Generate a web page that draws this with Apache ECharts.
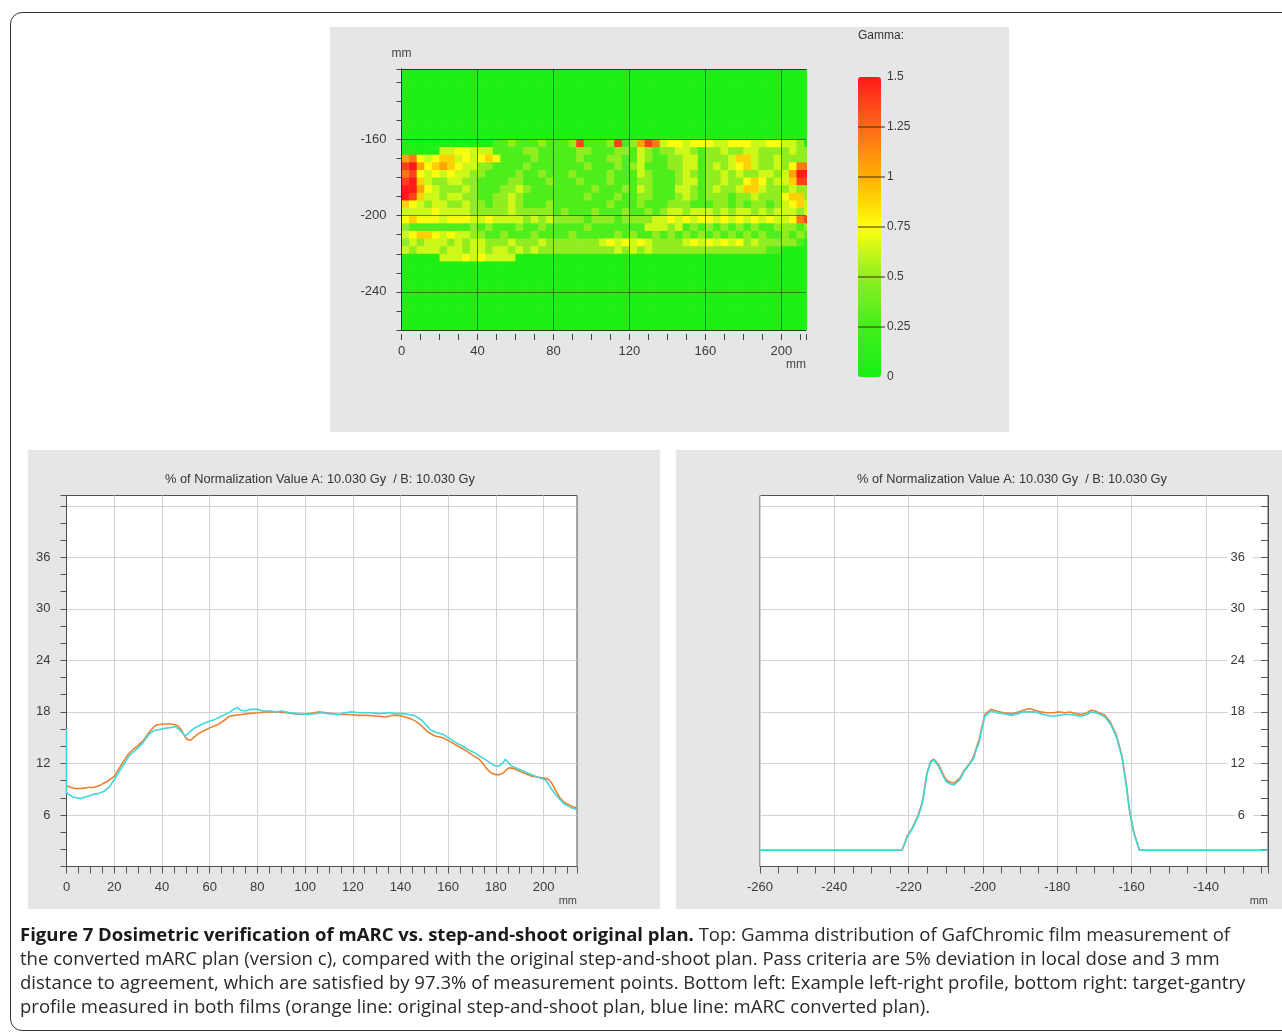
<!DOCTYPE html>
<html><head><meta charset="utf-8">
<script src="https://cdn.jsdelivr.net/npm/echarts@6/dist/echarts.min.js"></script>
<style>
html,body{margin:0;padding:0;background:#fff;width:1282px;height:1033px;overflow:hidden;}
#frame{position:absolute;left:10px;top:12px;width:1300px;height:1017px;border:1.5px solid #333;border-radius:12px;}
.panel{position:absolute;background:#e6e6e6;}
#chart{position:absolute;left:0;top:0;width:1282px;height:1033px;}
#caption{position:absolute;left:20px;top:922px;font-family:'Open Sans',sans-serif;font-size:18.55px;line-height:24px;color:#2a2a2a;white-space:nowrap;}
#caption b{color:#1a1a1a;}
</style></head><body>
<div id="frame"></div>
<div class="panel" style="left:330px;top:27px;width:679px;height:405px"></div>
<div class="panel" style="left:28px;top:450px;width:632px;height:459px"></div>
<div class="panel" style="left:676px;top:450px;width:620px;height:459px"></div>
<div id="chart"></div>
<div id="caption"><b>Figure 7 Dosimetric verification of mARC vs. step-and-shoot original plan.</b> Top: Gamma distribution of GafChromic film measurement of<br>the converted mARC plan (version c), compared with the original step-and-shoot plan. Pass criteria are 5% deviation in local dose and 3 mm<br>distance to agreement, which are satisfied by 97.3% of measurement points. Bottom left: Example left-right profile, bottom right: target-gantry<br>profile measured in both films (orange line: original step-and-shoot plan, blue line: mARC converted plan).</div>
<script>
// ---------- DATA ----------
// Gamma map: 4 mm cells, rows from y=-124 (top) down to y=-260, columns from x=0; digit = level index
const GAMMA_LEVELS = [0.05, 0.28, 0.5, 0.64, 0.76, 0.9, 1.05, 1.2, 1.38, 1.5];
const GAMMA_CELL_MM = 4;
const GAMMA_X_FIRST = 0;
const GAMMA_Y_TOP_ROW = -124;
const GAMMA_ROWS = [
  "0000000000 0000000000 0000000000 0000000000 0000000000 0000",
  "0000000000 0000000000 0000000000 0000000000 0000000000 0000",
  "0000000000 0000000000 0000000000 0000000000 0000000000 0000",
  "0000000000 0000000000 0000000000 0000000000 0000000000 0000",
  "0000000000 0000000000 0000000000 0000000000 0000000000 0000",
  "0000000000 0000000000 0000000000 0000000000 0000000000 0000",
  "0000000000 0000000000 0000000000 0000000000 0000000000 0000",
  "0000000000 0000000000 0000000000 0000000000 0000000000 0000",
  "0000000000 0000000000 0000000000 0000000000 0000000000 0000",
  "0000000000 0000000000 0000000000 0000000000 0000000000 0000",
  "0000000000 0011211121 1128111281 2687344344 4334443344 3320",
  "0000033443 3311112211 1112211122 1321223321 2232233222 2322",
  "6743455343 4541111211 1112111221 1321122331 2223553223 2222",
  "8964565433 2211112111 1111211121 2311122331 2323453223 2477",
  "7843434332 2111121121 1121111211 1321112321 2232322332 3699",
  "8953223322 1111221112 1112111211 1221112331 2232245423 3588",
  "9964322232 1112232111 1111121112 1321113321 2322355322 2322",
  "9853323322 1122321111 1111211121 1221112321 2221223222 4552",
  "5432332232 2122321112 1111111211 1211122211 1221212212 3453",
  "3333433332 2222322222 1211121112 1121233233 3232332323 3323",
  "4544434443 3433332323 2222122212 2223343434 4343434343 3478",
  "2111111112 1211121121 1111211111 1133323121 2121212112 2212",
  "3455434332 2112111211 1121111121 2112121212 1212121211 2121",
  "2323332323 3222322232 2222223434 3432222343 4343423222 2210",
  "3233323323 3233232322 2222222232 3232222222 2222222211 0000",
  "0000033343 4333300000 0000000000 0000000000 0000000000 0000",
  "0000000000 0000000000 0000000000 0000000000 0000000000 0000",
  "0000000000 0000000000 0000000000 0000000000 0000000000 0000",
  "0000000000 0000000000 0000000000 0000000000 0000000000 0000",
  "0000000000 0000000000 0000000000 0000000000 0000000000 0000",
  "0000000000 0000000000 0000000000 0000000000 0000000000 0000",
  "0000000000 0000000000 0000000000 0000000000 0000000000 0000",
  "0000000000 0000000000 0000000000 0000000000 0000000000 0000",
  "0000000000 0000000000 0000000000 0000000000 0000000000 0000",
  "0000000000 0000000000 0000000000 0000000000 0000000000 0000"
];
const GAMMA_BAR_LABELS = [0, 0.25, 0.5, 0.75, 1, 1.25, 1.5];
const GAMMA_COLORS = ['#14f014', '#44ee1c', '#90ee20', '#ffff10', '#ffb000', '#ff6a1a', '#ff1a1a'];
const HEAT_X_LABELS = [0, 40, 80, 120, 160, 200];
const HEAT_Y_LABELS = [-240, -200, -160];

// Left-right profile (mm, % of normalization)
const LR_ORIGINAL = [[0,9.4],[2,9.2],[4.2,9.05],[6.5,9.1],[9.3,9.2],[11.5,9.2],[14.3,9.5],[17,9.9],[20,10.5],[22,11.4],[24.5,12.5],[26,13.1],[27.8,13.6],[30,14.1],[32,14.6],[33.8,15.3],[35.4,15.9],[36.8,16.3],[38,16.5],[41.4,16.6],[44,16.6],[45.6,16.5],[47,16.3],[48.1,15.9],[49.5,15.2],[50.6,14.8],[52,14.7],[53.2,15.0],[55.5,15.5],[58.2,15.9],[60.5,16.2],[63.3,16.5],[66,17.0],[68.4,17.5],[70.5,17.6],[73.4,17.7],[76,17.8],[80.2,17.9],[84,18.0],[88.6,18.0],[92,17.9],[95,17.8],[98.7,17.7],[102,17.8],[105.5,18.0],[109,17.9],[114,17.7],[118,17.7],[122.4,17.6],[126,17.6],[130.8,17.5],[134,17.4],[136.5,17.6],[139.2,17.6],[142,17.4],[144.3,17.2],[146.5,16.9],[148.5,16.5],[150.2,16.0],[151.9,15.6],[154.5,15.2],[157.8,15.0],[160.5,14.6],[162.9,14.2],[165.5,13.8],[167.9,13.4],[170.5,12.9],[173,12.5],[174.8,11.9],[176.4,11.3],[178,10.9],[179.7,10.7],[181.5,10.7],[183.1,10.9],[184.5,11.3],[185.6,11.5],[187.5,11.4],[189.9,11.1],[192.5,10.8],[195,10.5],[198,10.4],[201.7,10.2],[202.6,10.0],[203.4,9.7],[205,8.9],[206.8,8.0],[208.5,7.5],[210.5,7.2],[212,7.0],[214,6.8]];
const LR_MARC = [[0,16.0],[0,8.6],[0.8,8.4],[2.5,8.1],[4.2,8.0],[6,7.9],[7.6,8.1],[9.5,8.2],[11,8.4],[13.5,8.5],[16,8.8],[18,9.3],[20,10.1],[22,11.0],[24.5,12.1],[26,12.8],[27.8,13.3],[30,13.8],[32,14.4],[33.5,15.0],[34.6,15.4],[36.5,15.8],[38,15.9],[41.4,16.1],[44,16.2],[45.6,16.3],[47,16.0],[47.8,15.75],[49.8,15.2],[51.5,15.6],[53,16.0],[54.9,16.3],[57,16.6],[59.9,16.9],[62,17.1],[65,17.5],[68,17.9],[70,18.3],[71.7,18.5],[73,18.2],[75,18.1],[77,18.3],[80.2,18.3],[82,18.1],[85.2,18.1],[88,18.0],[90,18.1],[93.7,17.9],[97,17.8],[100.4,17.7],[104,17.8],[107,17.9],[110,17.8],[114,17.7],[117,17.9],[119,18.0],[123,17.9],[127.4,17.9],[131,17.8],[135.9,17.9],[138,17.8],[141,17.8],[143.5,17.7],[145.7,17.6],[147.5,17.3],[149.4,16.9],[151,16.4],[152.7,15.9],[155,15.6],[157.8,15.4],[159.5,15.1],[161.2,14.8],[163.5,14.4],[166.2,14.0],[168.5,13.6],[171.3,13.2],[174,12.7],[176.4,12.3],[178,12.0],[179.7,11.7],[181.4,11.7],[183,12.1],[184,12.5],[185.2,12.1],[186.5,11.7],[189,11.4],[191.6,11.1],[194,10.8],[196.6,10.5],[198.5,10.3],[200.8,10.1],[202,9.6],[203.4,9.0],[205,8.4],[206.8,7.8],[208.5,7.3],[210.5,7.0],[212,6.8],[214,6.6]];

// Target-gantry profile (mm, % of normalization)
const TG_ORIGINAL = [[-260,1.9],[-221.8,1.9],[-220.3,3.6],[-219,4.5],[-217.7,5.7],[-216.8,6.8],[-216.1,8.0],[-215.1,10.9],[-214,12.3],[-213.2,12.5],[-212,11.9],[-210.9,10.9],[-209.9,10.1],[-208.8,9.8],[-207.8,9.7],[-206.2,10.3],[-205.2,11.1],[-203.6,12.0],[-202.5,12.8],[-201.8,13.8],[-201,14.8],[-200.5,15.8],[-199.5,17.7],[-197.9,18.3],[-196.4,18.1],[-194.5,17.9],[-192.2,17.8],[-190.5,18.0],[-189.1,18.2],[-187.5,18.4],[-186,18.2],[-184.5,18.0],[-182.8,17.9],[-181,17.9],[-179.7,18.0],[-178,17.9],[-176.6,18.0],[-175,17.8],[-173.5,17.7],[-172,17.9],[-170.9,18.2],[-169.8,18.1],[-168.8,17.9],[-167.2,17.6],[-165.7,16.8],[-164.1,15.3],[-162.6,12.9],[-161.5,9.8],[-160.5,6.4],[-159.4,4.0],[-157.9,1.9],[-123.3,1.9]];
const TG_MARC = [[-260,1.9],[-221.8,1.9],[-220.3,3.5],[-219,4.4],[-217.7,5.6],[-216.8,6.6],[-216.1,7.8],[-215.1,10.7],[-214,12.2],[-213.2,12.4],[-212,11.7],[-210.9,10.7],[-209.9,9.9],[-208.8,9.6],[-207.8,9.5],[-206.2,10.1],[-205.2,11.0],[-203.6,11.9],[-202.5,12.6],[-201.8,13.6],[-201,14.5],[-200.5,15.6],[-199.5,17.5],[-197.9,18.1],[-196.4,17.9],[-194.5,17.8],[-192.2,17.6],[-190.5,17.8],[-189.1,18.0],[-187.5,18.0],[-186,18.0],[-184.5,17.8],[-182.8,17.6],[-181,17.5],[-179.7,17.6],[-178,17.7],[-176.6,17.7],[-175,17.6],[-173.5,17.5],[-172,17.7],[-170.9,18.0],[-169.8,17.9],[-168.8,17.8],[-167.2,17.4],[-165.7,16.6],[-164.1,15.1],[-162.6,12.7],[-161.5,9.6],[-160.5,6.2],[-159.4,3.9],[-157.9,1.9],[-123.3,1.9]];

const PROFILE_Y_LABELS = [6, 12, 18, 24, 30, 36];
const LR_X_LABELS = [0, 20, 40, 60, 80, 100, 120, 140, 160, 180, 200];
const TG_X_LABELS = [-260, -240, -220, -200, -180, -160, -140];
const PROFILE_TITLE = '% of Normalization Value A: 10.030 Gy  / B: 10.030 Gy';

// ---------- BUILD ----------
const gammaData = [];
GAMMA_ROWS.forEach((row, r) => {
  const cells = row.replace(/ /g, '');
  for (let c = 0; c < cells.length; c++) {
    gammaData.push([GAMMA_X_FIRST + c * GAMMA_CELL_MM, GAMMA_Y_TOP_ROW - r * GAMMA_CELL_MM, GAMMA_LEVELS[+cells[c]]]);
  }
});

const FONT = 'Liberation Sans';
const LABEL_COLOR = '#3a3a3a';
const GD = 'rgba(25,70,25,0.65)';
const T = 'rgba(0,0,0,0)';
const GRIDC = '#d2d2d2';
const pick = arr => v => (arr.indexOf(Math.round(v * 1000) / 1000) >= 0 ? String(v) : '');

const chart = echarts.init(document.getElementById('chart'), null, {renderer: 'canvas'});
const baseGrid = {containLabel: false, outerBoundsMode: 'none'};
const titleStyle = {fontSize: 12.8, fontWeight: 'normal', color: '#333', fontFamily: FONT};
const option = {
  animation: false,
  textStyle: {fontFamily: FONT},
  title: [
    {text: PROFILE_TITLE, left: 320, top: 473, textAlign: 'center', padding: 0, textStyle: titleStyle},
    {text: PROFILE_TITLE, left: 1012, top: 473, textAlign: 'center', padding: 0, textStyle: titleStyle},
    {text: 'Gamma:', left: 858, top: 30, padding: 0,
     textStyle: {fontSize: 12, fontWeight: 'normal', color: '#333', fontFamily: FONT}}
  ],
  grid: [
    Object.assign({left: 401.5, top: 69, width: 404.5, height: 261}, baseGrid),
    Object.assign({left: 858, top: 77, width: 27, height: 300}, baseGrid),
    Object.assign({left: 66.5, top: 495.5, width: 510.5, height: 371, show: true, backgroundColor: '#fff', borderColor: '#505050', borderWidth: 1}, baseGrid),
    Object.assign({left: 760, top: 495.5, width: 508, height: 371, show: true, backgroundColor: '#fff', borderColor: '#505050', borderWidth: 1}, baseGrid)
  ],
  visualMap: {
    type: 'continuous', min: 0, max: 1.5, seriesIndex: 0, dimension: 2,
    inRange: {color: GAMMA_COLORS}, calculable: false, orient: 'vertical',
    left: 858, top: 77, itemWidth: 23, itemHeight: 300, padding: 0,
    text: null, showLabel: false
  },
  xAxis: [
    {gridIndex: 0, type: 'value', position: 'bottom', min: 0, max: 213, interval: 10, z: 5,
     axisLine: {show: true, lineStyle: {color: '#2a3d2a', width: 1}},
     axisTick: {show: false}, axisLabel: {show: false},
     splitLine: {show: true, lineStyle: {color: [GD, T, T, T], width: 1}}},
    {gridIndex: 0, type: 'value', position: 'bottom', min: 0, max: 213, interval: 10, offset: 4,
     axisLine: {show: false}, axisTick: {show: true, length: 6, lineStyle: {color: '#444'}},
     axisLabel: {show: true, margin: 11, fontSize: 13, color: LABEL_COLOR, formatter: pick(HEAT_X_LABELS)},
     splitLine: {show: false},
     name: 'mm', nameLocation: 'end', nameGap: 0,
     nameTextStyle: {align: 'right', verticalAlign: 'top', padding: [25, 0, 0, 0], fontSize: 12, color: '#444'}},
    {gridIndex: 0, type: 'value', position: 'top', min: 0, max: 213, z: 5,
     axisLine: {show: true, lineStyle: {color: '#2a3d2a'}}, axisTick: {show: false}, axisLabel: {show: false}, splitLine: {show: false}},
    {gridIndex: 1, type: 'value', min: 0, max: 1, show: false},
    {gridIndex: 2, type: 'value', position: 'bottom', min: 0, max: 214, interval: 5,
     axisLine: {show: true, lineStyle: {color: '#505050'}},
     axisTick: {show: true, length: 7, lineStyle: {color: '#555'}},
     axisLabel: {margin: 14, fontSize: 13, color: LABEL_COLOR, formatter: pick(LR_X_LABELS)},
     splitLine: {show: true, lineStyle: {color: [GRIDC, T, T, T]}},
     name: 'mm', nameLocation: 'end', nameGap: 0,
     nameTextStyle: {align: 'right', verticalAlign: 'top', padding: [29, 0, 0, 0], fontSize: 11, color: '#444'}},
    {gridIndex: 3, type: 'value', position: 'bottom', min: -260, max: -123.3, interval: 5,
     axisLine: {show: true, lineStyle: {color: '#505050'}},
     axisTick: {show: true, length: 7, lineStyle: {color: '#555'}},
     axisLabel: {margin: 14, fontSize: 13, color: LABEL_COLOR, formatter: pick(TG_X_LABELS)},
     splitLine: {show: true, lineStyle: {color: [GRIDC, T, T, T]}},
     name: 'mm', nameLocation: 'end', nameGap: 0,
     nameTextStyle: {align: 'right', verticalAlign: 'top', padding: [29, 0, 0, 0], fontSize: 11, color: '#444'}}
  ],
  yAxis: [
    {gridIndex: 0, type: 'value', position: 'left', min: -260, max: -123, interval: 10, z: 5,
     axisLine: {show: true, lineStyle: {color: '#2a3d2a'}},
     axisTick: {show: false}, axisLabel: {show: false},
     splitLine: {show: true, lineStyle: {color: [T, T, GD, T], width: 1}}},
    {gridIndex: 0, type: 'value', position: 'left', min: -260, max: -123, interval: 10, offset: 3,
     axisLine: {show: false}, axisTick: {show: true, length: 5, lineStyle: {color: '#444'}},
     axisLabel: {show: true, margin: 12, fontSize: 13, color: LABEL_COLOR, formatter: pick(HEAT_Y_LABELS)},
     splitLine: {show: false},
     name: 'mm', nameLocation: 'end', nameGap: 9,
     nameTextStyle: {fontSize: 12, color: '#444', align: 'center'}},
    {gridIndex: 0, type: 'value', position: 'right', min: -260, max: -123, z: 5,
     axisLine: {show: true, lineStyle: {color: '#2a3d2a'}}, axisTick: {show: false}, axisLabel: {show: false}, splitLine: {show: false}},
    {gridIndex: 1, type: 'value', position: 'right', min: 0, max: 1.5, interval: 0.25, z: 10,
     axisLine: {show: false}, axisTick: {show: false},
     axisLabel: {margin: 2, fontSize: 12, color: LABEL_COLOR, formatter: pick(GAMMA_BAR_LABELS)},
     splitLine: {show: true, lineStyle: {color: [T, 'rgba(70,50,10,0.7)', 'rgba(70,50,10,0.7)', 'rgba(70,50,10,0.7)', 'rgba(70,50,10,0.7)', 'rgba(70,50,10,0.7)', T], width: 1.5}}},
    {gridIndex: 2, type: 'value', position: 'left', min: 0, max: 43.2, interval: 2,
     axisLine: {show: true, lineStyle: {color: '#505050'}},
     axisTick: {show: true, length: 6, lineStyle: {color: '#555'}},
     axisLabel: {margin: 16, fontSize: 13, color: LABEL_COLOR, formatter: pick(PROFILE_Y_LABELS)},
     splitLine: {show: true, lineStyle: {color: [GRIDC, T, T]}}},
    {gridIndex: 3, type: 'value', position: 'right', min: 0, max: 43.2, interval: 2,
     axisLine: {show: true, lineStyle: {color: '#505050'}},
     axisTick: {show: true, inside: true, length: 7, lineStyle: {color: '#555'}},
     axisLabel: {inside: true, margin: 15, fontSize: 13, color: LABEL_COLOR,
       formatter: v => (PROFILE_Y_LABELS.indexOf(v) >= 0 ? '{b|' + v + '}' : ''),
       rich: {b: {fontSize: 13, color: LABEL_COLOR, fontFamily: FONT, backgroundColor: '#fff', padding: [1, 8, 1, 3]}}},
     splitLine: {show: true, lineStyle: {color: [GRIDC, T, T]}}}
  ],
  series: [
    {type: 'custom', xAxisIndex: 0, yAxisIndex: 0, data: gammaData, clip: true,
     encode: {x: 0, y: 1},
     renderItem: function (params, api) {
       const x = api.value(0), y = api.value(1);
       const a = api.coord([x, y + GAMMA_CELL_MM]);
       const b = api.coord([x + GAMMA_CELL_MM, y]);
       return {type: 'rect', shape: {x: a[0], y: a[1], width: b[0] - a[0] + 0.6, height: b[1] - a[1] + 0.6},
               style: {fill: api.visual('color')}};
     }},
    {type: 'line', name: 'original', xAxisIndex: 4, yAxisIndex: 4, data: LR_ORIGINAL, showSymbol: false,
     lineStyle: {color: '#ee8030', width: 1.6}, itemStyle: {color: '#ee8030'}},
    {type: 'line', name: 'mARC', xAxisIndex: 4, yAxisIndex: 4, data: LR_MARC, showSymbol: false,
     lineStyle: {color: '#3ed8dc', width: 1.6}, itemStyle: {color: '#3ed8dc'}},
    {type: 'line', name: 'original', xAxisIndex: 5, yAxisIndex: 5, data: TG_ORIGINAL, showSymbol: false,
     lineStyle: {color: '#ee8030', width: 1.6}, itemStyle: {color: '#ee8030'}},
    {type: 'line', name: 'mARC', xAxisIndex: 5, yAxisIndex: 5, data: TG_MARC, showSymbol: false,
     lineStyle: {color: '#3ed8dc', width: 1.6}, itemStyle: {color: '#3ed8dc'}}
  ]
};
chart.setOption(option);
</script>
</body></html>
